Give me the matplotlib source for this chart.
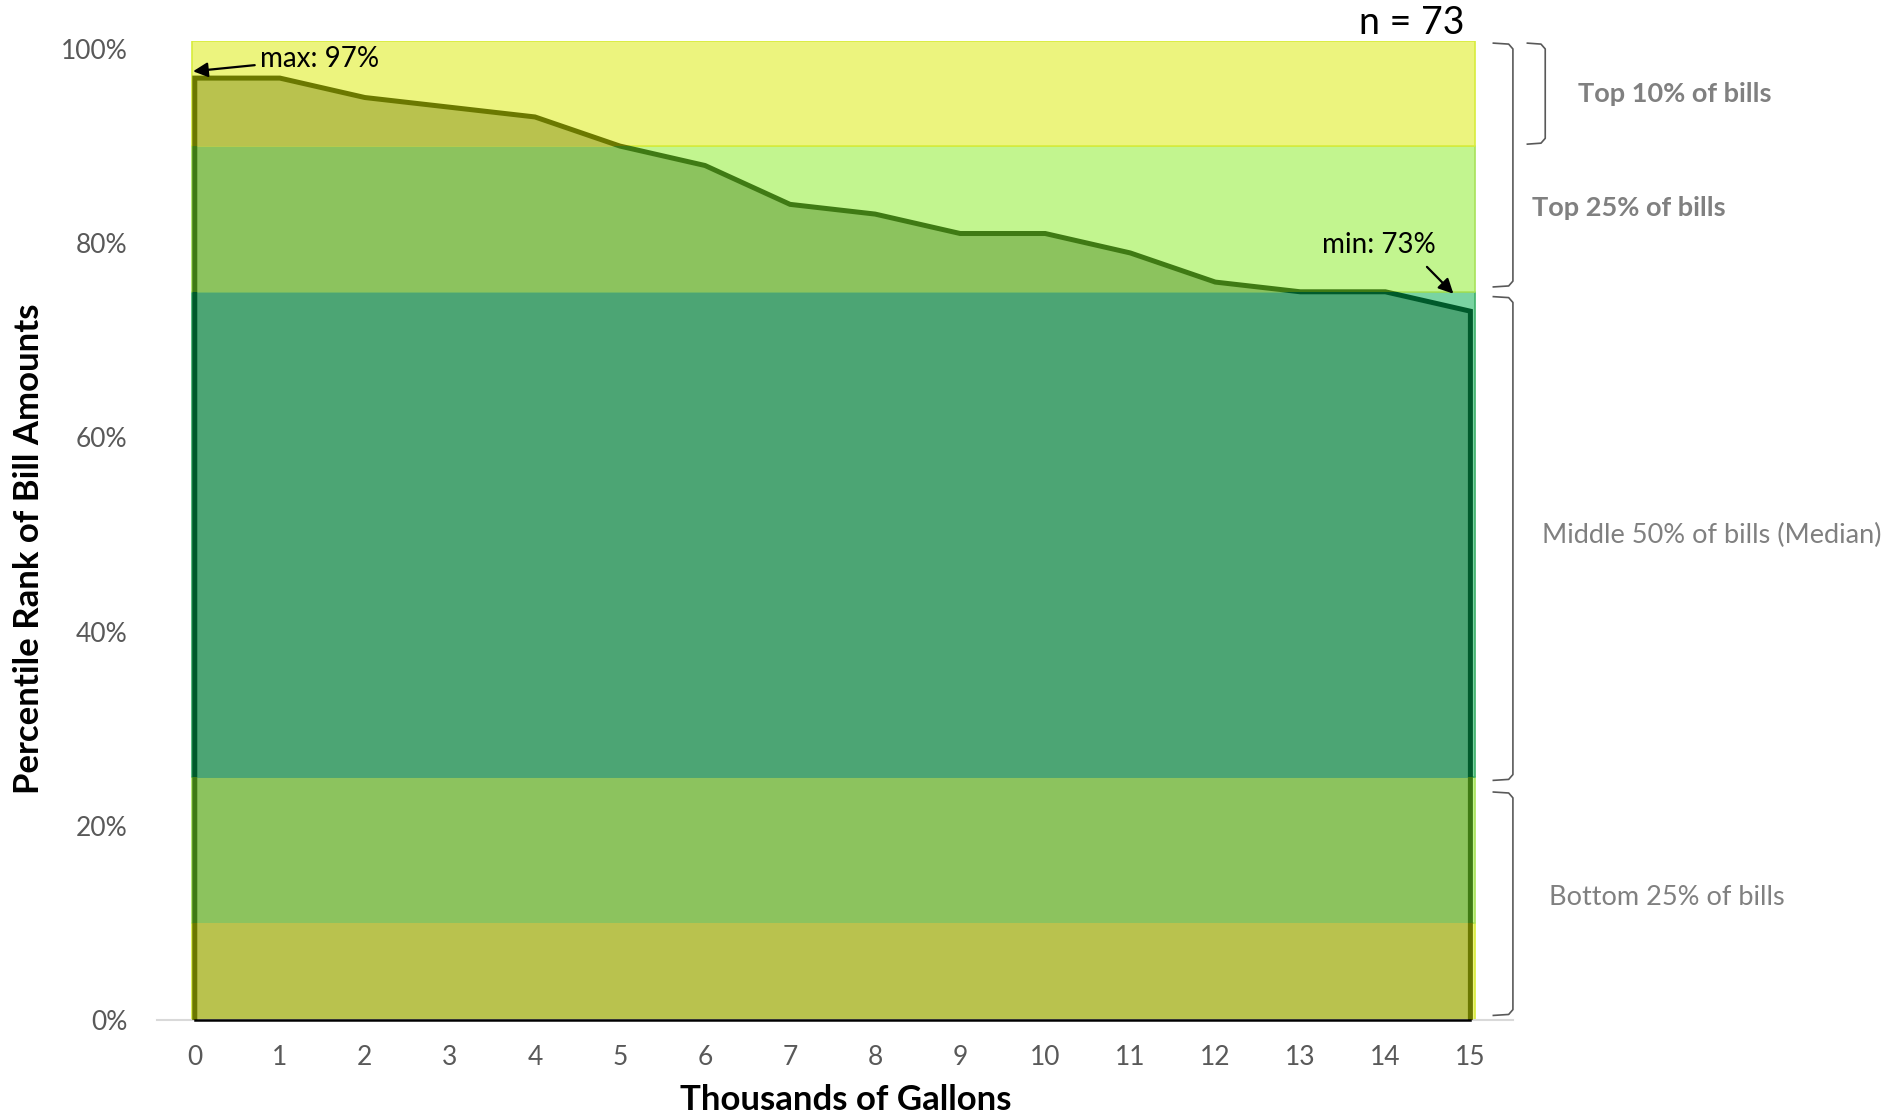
import matplotlib.pyplot as plt
import numpy as np
from matplotlib.patches import Rectangle

plt.rcParams['font.family'] = ['Lato', 'DejaVu Sans']

# data
gallons = np.arange(16)
pct_rank = np.array([97, 97, 95, 94, 93, 90, 88, 84, 83, 81, 81, 79, 76, 75, 75, 73])
n_bills = 73

band_edges = [0, 10, 25, 75, 90, 100]
band_light = ['#ECF47E', '#C2F58F', '#7AD4A2', '#C2F58F', '#ECF47E']
band_dark = ['#B9C24E', '#8CC35E', '#4CA574', '#8CC35E', '#B9C24E']
line_cols = ['#6B7800', '#3F7A14', '#005A2B', '#3F7A14', '#6B7800']
band_border = ['#D8EC3C', '#A8E25A', '#3DB06A', '#A8E25A', '#D8EC3C']

bracket_labels = ['Top 10% of bills', 'Top 25% of bills',
                  'Middle 50% of bills (Median)', 'Bottom 25% of bills']
bracket_spans = [(100.6, 90.2), (100.6, 75.5), (74.5, 24.7), (23.5, 0.5)]

fig = plt.figure(figsize=(19.04, 11.13), dpi=100)
ax = fig.add_axes([0.0822, 0.0833, 0.7124, 0.8797])
y_top = 100.8

x0, x1 = gallons[0], gallons[-1]
ox = np.r_[x0, gallons, x1]
oy = np.r_[0, pct_rank, 0]

for i in range(len(band_light)):
    lo, hi = band_edges[i], band_edges[i + 1]
    hi_draw = y_top if i == len(band_light) - 1 else hi
    # background band
    ax.fill_between([x0 - 0.03, x1 + 0.05], lo, hi_draw, color=band_light[i],
                    edgecolor=band_border[i], lw=1.2, zorder=1)
    # area under the curve within this band
    ax.fill_between(gallons, lo, np.clip(pct_rank, lo, hi), color=band_dark[i],
                    lw=0, zorder=2)
    # outline, coloured by band
    ln, = ax.plot(ox, oy, color=line_cols[i], lw=3.6, zorder=3,
                  solid_joinstyle='miter')
    clip = Rectangle((x0 - 1, lo), x1 - x0 + 2, hi - lo, transform=ax.transData)
    ln.set_clip_path(clip)

ax.plot([x0, x1], [0, 0], color='black', lw=1.8, zorder=4, clip_on=False)

ax.set_xlim(-0.45, 15.5)
ax.set_ylim(0, y_top)
for s in ['top', 'right', 'left']:
    ax.spines[s].set_visible(False)
ax.spines['bottom'].set_color('#D9D9D9')
ax.spines['bottom'].set_linewidth(1.5)

ax.set_xticks(gallons)
ax.set_xticklabels([str(g) for g in gallons])
ax.set_yticks(range(0, 101, 20))
ax.set_yticklabels([f'{v}%' for v in range(0, 101, 20)])
ax.tick_params(axis='both', length=0, labelsize=19, colors='#595959')
ax.tick_params(axis='y', pad=21)
ax.tick_params(axis='x', pad=18)

fig.text(29 / 1904, 1 - 549 / 1113, 'Percentile Rank of Bill Amounts', rotation=90,
         ha='center', va='center', fontsize=25, fontweight='bold')
fig.text(846 / 1904, 1 - 1100 / 1113, 'Thousands of Gallons',
         ha='center', va='center', fontsize=25, fontweight='bold')

# n label
ax.text(14.93, 102.7, f'n = {n_bills}', ha='right', va='center', fontsize=27,
        clip_on=False)

# max / min annotations
ax.annotate(f'max: {pct_rank.max()}%', xy=(-0.02, 97.7), xytext=(0.77, 99.0),
            ha='left', va='center', fontsize=20, annotation_clip=False,
            arrowprops=dict(arrowstyle='-|>', color='black', lw=1.6,
                            mutation_scale=22, shrinkA=2, shrinkB=0))
ax.annotate(f'min: {pct_rank.min()}%', xy=(14.8, 74.8), xytext=(13.92, 79.8),
            ha='center', va='center', fontsize=20, annotation_clip=False,
            arrowprops=dict(arrowstyle='-|>', color='black', lw=1.6,
                            mutation_scale=22, shrinkA=6, shrinkB=0,
                            relpos=(0.85, 0.0)))

# brackets on the right
bracket_x = [(15.67, 15.88), (15.27, 15.50), (15.27, 15.50), (15.27, 15.50)]
label_pos = [(16.27, 95.4), (15.73, 83.6), (15.84, 49.9), (15.93, 12.6)]
label_bold = [True, True, False, False]
for (top, bot), (bx0, bx1), lab, (tx, ty), bold in zip(
        bracket_spans, bracket_x, bracket_labels, label_pos, label_bold):
    r = 0.05
    d = 0.6
    px = [bx0, bx1 - r, bx1, bx1, bx1 - r, bx0]
    py = [top, top - 0.1, top - d, bot + d, bot + 0.1, bot]
    ax.plot(px, py, color='#595959', lw=1.2, clip_on=False)
    ax.text(tx, ty, lab, ha='left', va='center', fontsize=19.5, color='#808080',
            fontweight='bold' if bold else 'normal', clip_on=False)

fig.savefig('out.png', dpi=100)
